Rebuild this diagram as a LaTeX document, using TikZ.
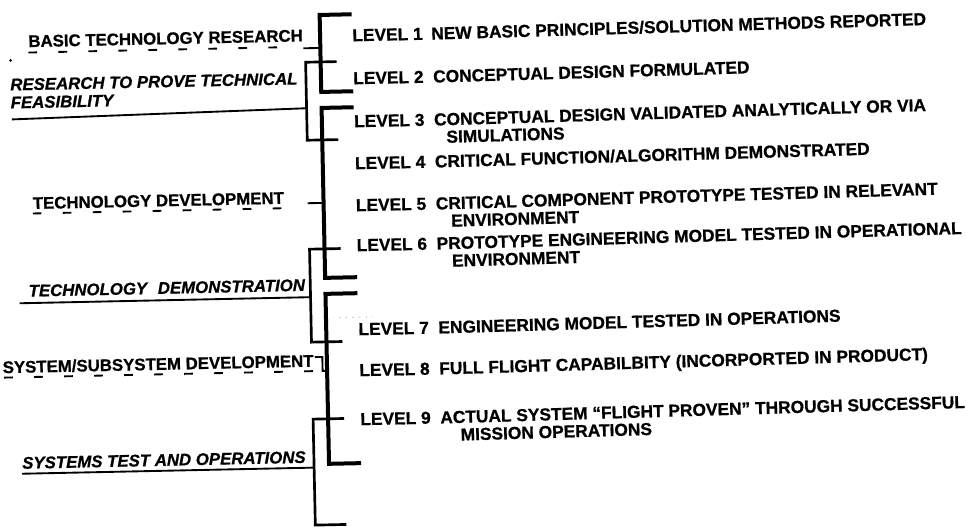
\documentclass[tikz,border=0pt]{standalone}
\usepackage{fontspec}
\setmainfont{Liberation Sans}[BoldFeatures={FakeBold=0.8},BoldItalicFeatures={FakeBold=0.8}]
\begin{document}
\begin{tikzpicture}[x=0.75pt,y=-0.75pt,
  thk/.style={line width=3pt},
  thn/.style={line width=2pt},
  uline/.style={line width=1.4pt},
  dul/.style={line width=1.4pt, dash pattern=on 6.5pt off 16pt},
  lvl/.style={anchor=base west, inner sep=0pt, font=\fontsize{13}{15}\selectfont\bfseries},
  desc/.style={lvl, rotate=0.5},
  phase/.style={anchor=base west, inner sep=0pt, font=\fontsize{12.6}{15}\selectfont\bfseries},
  iphase/.style={phase, font=\fontsize{12.6}{15}\selectfont\bfseries\itshape},
]
\useasboundingbox (0,0) rectangle (967,527);
\begin{scope}[rotate around={1.2:(320,270)}, transform shape]
% bracket coordinates
\coordinate (b1a) at (357,15);  \coordinate (b1b) at (325,15);  \coordinate (b1c) at (325,92);  \coordinate (b1d) at (357,92);
\coordinate (b2a) at (341,62);  \coordinate (b2b) at (310,62);  \coordinate (b2c) at (310,140); \coordinate (b2d) at (341,140);
\coordinate (b3a) at (357,108); \coordinate (b3b) at (325,108); \coordinate (b3c) at (325,278); \coordinate (b3d) at (357,278);
\coordinate (b4a) at (341,249); \coordinate (b4b) at (310,249); \coordinate (b4c) at (310,342); \coordinate (b4d) at (341,342);
\coordinate (b5a) at (357,294); \coordinate (b5b) at (325,294); \coordinate (b5c) at (325,464); \coordinate (b5d) at (357,464);
\coordinate (b6a) at (341,419); \coordinate (b6b) at (310,419); \coordinate (b6c) at (310,525); \coordinate (b6d) at (341,525);
\draw[thk] (b1a) -- (b1b) -- (b1c) -- (b1d);
\draw[thn] (b2a) -- (b2b) -- (b2c) -- (b2d);
\draw[thk] (b3a) -- (b3b) -- (b3c) -- (b3d);
\draw[thn] (b4a) -- (b4b) -- (b4c) -- (b4d);
\draw[thk] (b5a) -- (b5b) -- (b5c) -- (b5d);
\draw[thn] (b6a) -- (b6b) -- (b6c) -- (b6d);
% levels
\node[lvl] (l1) at (357,42) {LEVEL 1};
\node[desc] (d1) at (436,42) {NEW BASIC PRINCIPLES/SOLUTION METHODS REPORTED};
\node[lvl] (l2) at (357,85) {LEVEL 2};
\node[desc] (d2) at (437,85) {CONCEPTUAL DESIGN FORMULATED};
\node[lvl] (l3) at (357,128) {LEVEL 3};
\node[desc] (d3) at (437,128) {CONCEPTUAL DESIGN VALIDATED ANALYTICALLY OR VIA};
\node[desc] (d3b) at (449,145.5) {SIMULATIONS};
\node[lvl] (l4) at (357,170) {LEVEL 4};
\node[desc] (d4) at (437,170) {CRITICAL FUNCTION/ALGORITHM DEMONSTRATED};
\node[lvl] (l5) at (357,212) {LEVEL 5};
\node[desc] (d5) at (437,212) {CRITICAL COMPONENT PROTOTYPE TESTED IN RELEVANT};
\node[desc] (d5b) at (452,229.5) {ENVIRONMENT};
\node[lvl] (l6) at (357,252) {LEVEL 6};
\node[desc] (d6) at (437,252) {PROTOTYPE ENGINEERING MODEL TESTED IN OPERATIONAL};
\node[desc] (d6b) at (452,269.5) {ENVIRONMENT};
\node[lvl] (l7) at (357,336) {LEVEL 7};
\node[desc] (d7) at (437,336) {ENGINEERING MODEL TESTED IN OPERATIONS};
\node[lvl] (l8) at (357,377) {LEVEL 8};
\node[desc] (d8) at (437,377) {FULL FLIGHT CAPABILBITY (INCORPORTED IN PRODUCT)};
\node[lvl] (l9) at (357,426) {LEVEL 9};
\node[desc] (d9) at (437,426) {ACTUAL SYSTEM ``FLIGHT PROVEN'' THROUGH SUCCESSFUL};
\node[desc] (d9b) at (457,443.5) {MISSION OPERATIONS};
% phases
\fill (15,54) circle[radius=1.1pt];
\node[phase] (p1) at (33,41) {BASIC TECHNOLOGY RESEARCH};
\coordinate (p1u) at (33,46.5); \coordinate (p1e) at (302,46.5);
\draw[dul] (p1u) -- (p1e);
\coordinate (p1s) at (308,48); \coordinate (b1s) at (325,48);
\draw[uline] (p1s) -- (b1s);
\node[iphase] (p2) at (14,84) {RESEARCH TO PROVE TECHNICAL};
\node[iphase] (p2b) at (14,102) {FEASIBILITY};
\coordinate (p2u) at (15,113); \coordinate (b2m) at (310,108);
\draw[uline] (p2u) -- (b2m);
\node[phase] (p3) at (34,203) {TECHNOLOGY DEVELOPMENT};
\coordinate (p3u) at (34,207.5); \coordinate (p3e) at (300,207.5);
\draw[dul] (p3u) -- (p3e);
\coordinate (p3s) at (309,203); \coordinate (b3s) at (325,203);
\draw[uline] (p3s) -- (b3s);
\node[iphase] (p4) at (28,290.5) {TECHNOLOGY\hspace{8pt}DEMONSTRATION};
\coordinate (p4u) at (19,297); \coordinate (b4m) at (310,297);
\draw[uline] (p4u) -- (b4m);
\node[phase] (p5) at (0.5,366.5) {SYSTEM/SUBSYSTEM DEVELOPMENT};
\coordinate (p5u) at (2,371); \coordinate (p5e) at (312,371);
\draw[dul] (p5u) -- (p5e);
\coordinate (p5h) at (313,357); \coordinate (b5s) at (325,371);
\draw[uline] (p5h) -- (320.5,357) -- (320.5,371) -- (b5s);
\node[iphase] (p6) at (18,462.5) {SYSTEMS TEST AND OPERATIONS};
\coordinate (p6u) at (18,467.5); \coordinate (b6m) at (310,467.5);
\draw[uline] (p6u) -- (b6m);
% faint scan dots
\draw[gray!50, line width=0.8pt, dash pattern=on 1pt off 4pt] (338,318) -- (372,318);
\end{scope}
\end{tikzpicture}
\end{document}
